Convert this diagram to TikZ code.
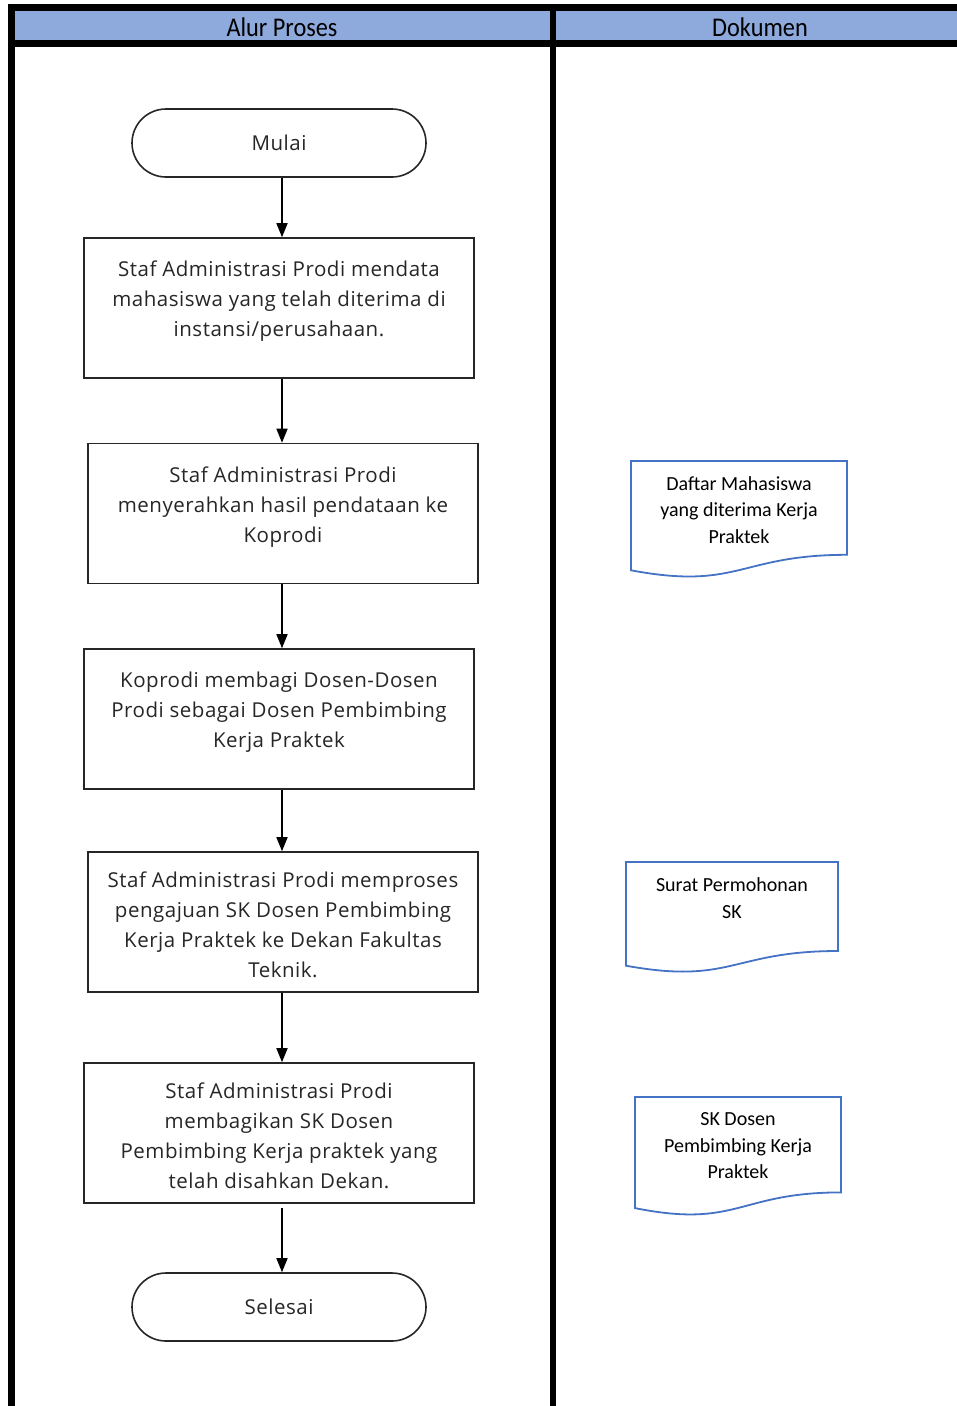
\documentclass[tikz,border=0pt]{standalone}
\usepackage{fontspec}
\setmainfont{Open Sans}[LetterSpace=2.5]
\newfontfamily\calib{Carlito}
\newfontfamily\hdrfont{Carlito}[FakeStretch=0.9]
\usetikzlibrary{arrows.meta,positioning}
\definecolor{hdrblue}{RGB}{142,169,219}
\definecolor{docblue}{RGB}{68,114,196}
\tikzset{
  procbox/.style={draw=black!85,line width=1.6pt,minimum width=390pt,minimum height=140pt,inner sep=0pt},
  term/.style={draw=black!85,line width=1.6pt,minimum width=294pt,minimum height=68pt,rounded corners=34pt,inner sep=0pt,font=\fontsize{20.5}{24}\selectfont,text=black!85},
  ptext/.style={align=center,font=\fontsize{20.5}{30}\selectfont,text=black!85,inner sep=0pt},
  dtext/.style={align=center,font=\calib\fontsize{20}{26.5}\selectfont,inner sep=0pt},
  hdr/.style={font=\hdrfont\fontsize{27}{30}\selectfont,inner sep=0pt},
  arr/.style={draw=black,line width=1.6pt,-{Triangle[length=14pt,width=11pt]}},
  docline/.style={draw=docblue,line width=1.8pt}
}
\begin{document}
\begin{tikzpicture}[x=1pt,y=-1pt]
\useasboundingbox (0,0) rectangle (957,1406);
% header
\fill[hdrblue] (15,11) rectangle (957,40);
\fill[black] (8,4) rectangle (957,11);
\fill[black] (8,40) rectangle (957,47);
\fill[black] (8,4) rectangle (15,1406);
\fill[black] (550,4) rectangle (556,1406);
\node[hdr] (h1) at (282,27) {Alur Proses};
\node[hdr] (h2) at (760,27) {Dokumen};
\coordinate (ax) at (282,0);
% flow
\node[term] (start) at (279,143) {Mulai};
\node[procbox] (b1) at (279,308) {};
\node[ptext] (t1) at (279,301.5) {Staf Administrasi Prodi mendata\\mahasiswa yang telah diterima di\\instansi/perusahaan.};
\node[procbox] (b2) at (283,513.5) {};
\node[ptext] (t2) at (283,507.5) {Staf Administrasi Prodi\\menyerahkan hasil pendataan ke\\Koprodi};
\node[procbox] (b3) at (279,719) {};
\node[ptext] (t3) at (279,712.5) {Koprodi membagi Dosen-Dosen\\Prodi sebagai Dosen Pembimbing\\Kerja Praktek};
\node[procbox] (b4) at (283,922) {};
\node[ptext] (t4) at (283,924.5) {Staf Administrasi Prodi memproses\\pengajuan SK Dosen Pembimbing\\Kerja Praktek ke Dekan Fakultas\\Teknik.};
\node[procbox] (b5) at (279,1133) {};
\node[ptext] (t5) at (279,1135.5) {Staf Administrasi Prodi\\membagikan SK Dosen\\Pembimbing Kerja praktek yang\\telah disahkan Dekan.};
\node[term] (end) at (279,1307) {Selesai};
% arrows
\draw[arr] (start.south -| ax) -- (b1.north -| ax);
\draw[arr] (b1.south -| ax) -- (b2.north -| ax);
\draw[arr] (b2.south -| ax) -- (b3.north -| ax);
\draw[arr] (b3.south -| ax) -- (b4.north -| ax);
\draw[arr] (b4.south -| ax) -- (b5.north -| ax);
\draw[arr] ([yshift=-4pt]b5.south -| ax) -- (end.north -| ax);
% documents
\draw[docline] (631,461) -- (847,461) -- (847,554.8) .. controls (739,554.8) and (739,590.5) .. (631,570.3) -- cycle;
\node[dtext] (d1) at (739,510) {Daftar Mahasiswa\\yang diterima Kerja\\Praktek};
\draw[docline] (626,862) -- (838,862) -- (838,951) .. controls (732,951) and (732,984.9) .. (626,965.7) -- cycle;
\node[dtext] (d2) at (732,898) {Surat Permohonan\\SK};
\draw[docline] (635,1097) -- (841,1097) -- (841,1192.4) .. controls (738,1192.4) and (738,1228.7) .. (635,1208.1) -- cycle;
\node[dtext] (d3) at (738,1146) {SK Dosen\\Pembimbing Kerja\\Praktek};
\end{tikzpicture}
\end{document}
